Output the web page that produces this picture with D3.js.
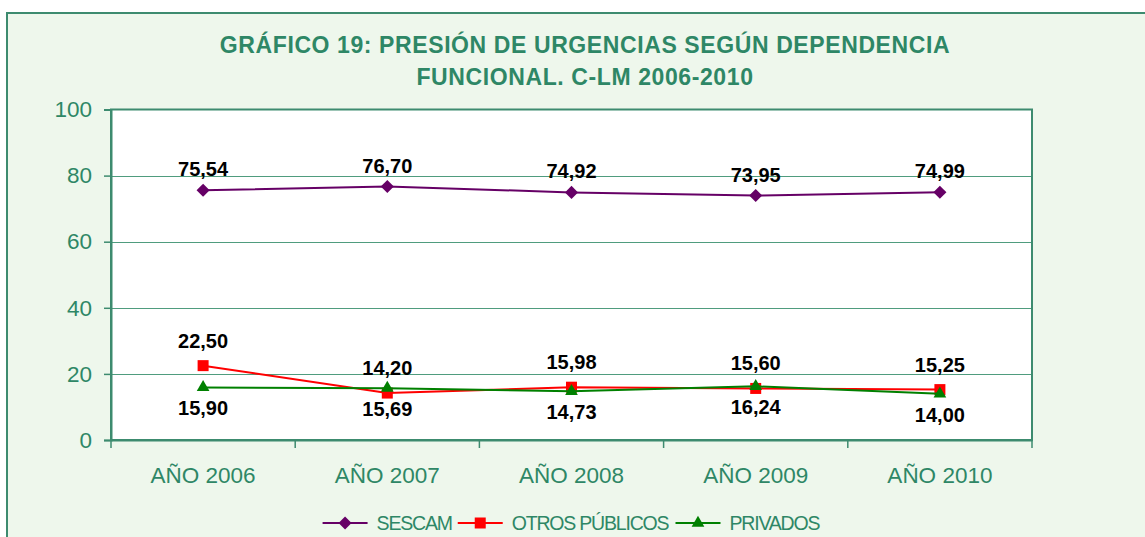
<!DOCTYPE html>
<html>
<head>
<meta charset="utf-8">
<script src="https://cdn.jsdelivr.net/npm/d3@7"></script>
<style>
  body { margin: 0; background: #fff; }
  text { font-family: "Liberation Sans", Arial, sans-serif; }
</style>
</head>
<body>
<div class="lineChart"></div>
<script>
// chart values
var years = ["AÑO 2006", "AÑO 2007", "AÑO 2008", "AÑO 2009", "AÑO 2010"];
var sescam = [75.54, 76.70, 74.92, 73.95, 74.99];
var otrosPublicos = [22.50, 14.20, 15.98, 15.60, 15.25];
var privados = [15.90, 15.69, 14.73, 16.24, 14.00];
var seriesNames = ["SESCAM", "OTROS PÚBLICOS", "PRIVADOS"];
var yTicks = [0, 20, 40, 60, 80, 100];
var titleLines = ["GRÁFICO 19: PRESIÓN DE URGENCIAS SEGÚN DEPENDENCIA",
                  "FUNCIONAL. C-LM 2006-2010"];

plotLineChart();

function plotLineChart(){
  var width = 1145, height = 537;
  var plot = {left: 111, right: 1032, top: 109.5, bottom: 440};
  var green = "#2e8766";

  var svg = d3.select(".lineChart")
              .append("svg")
              .attr("width", width)
              .attr("height", height);

  // outer frame
  svg.append("rect")
     .attr("x", 7).attr("y", 13)
     .attr("width", width + 20).attr("height", height + 20)
     .attr("fill", "#eef7ec")
     .attr("stroke", "#3d8b6f")
     .attr("stroke-width", 2);

  svg.selectAll(".title")
     .data(titleLines)
     .enter()
     .append("text")
     .attr("class", "title")
     .attr("x", 585)
     .attr("y", function(d, i){ return 53 + i * 32; })
     .attr("text-anchor", "middle")
     .style("font-size", "23px")
     .style("font-weight", "bold")
     .style("letter-spacing", "0.6px")
     .attr("fill", green)
     .text(function(d){ return d; });

  var x = d3.scaleBand().domain(years).range([plot.left, plot.right]);
  var y = d3.scaleLinear().domain([0, 100]).range([plot.bottom, plot.top]);

  // plot area
  svg.append("rect")
     .attr("x", plot.left).attr("y", plot.top)
     .attr("width", plot.right - plot.left)
     .attr("height", plot.bottom - plot.top)
     .attr("fill", "#fff");

  // gridlines
  svg.selectAll(".grid")
     .data(yTicks.slice(1, -1))
     .enter()
     .append("line")
     .attr("x1", plot.left).attr("x2", plot.right)
     .attr("y1", function(d){ return Math.round(y(d)) + 0.5; })
     .attr("y2", function(d){ return Math.round(y(d)) + 0.5; })
     .attr("stroke", "#4f9c7e")
     .attr("stroke-width", 1);

  svg.append("rect")
     .attr("x", plot.left).attr("y", plot.top)
     .attr("width", plot.right - plot.left)
     .attr("height", plot.bottom - plot.top)
     .attr("fill", "none")
     .attr("stroke", "#3d8b6f")
     .attr("stroke-width", 2);

  // y axis
  var yAxis = svg.append("g")
     .attr("transform", "translate(" + plot.left + ",0)")
     .call(d3.axisLeft(y).tickValues(yTicks).tickSize(7).tickPadding(12));
  yAxis.select(".domain").attr("stroke", "#3d8b6f").attr("stroke-width", 2);
  yAxis.selectAll(".tick line").attr("stroke", "#3d8b6f").attr("stroke-width", 1.5);
  yAxis.selectAll(".tick text")
       .attr("fill", green)
       .style("font-size", "22.5px")
       .style("font-family", "Liberation Sans, Arial, sans-serif");

  // x axis
  var xAxis = svg.append("g")
     .attr("transform", "translate(0," + plot.bottom + ")")
     .call(d3.axisBottom(x).tickSize(0).tickPadding(27));
  xAxis.select(".domain").attr("stroke", "#3d8b6f").attr("stroke-width", 2);
  xAxis.selectAll(".tick text")
       .attr("fill", green)
       .style("font-size", "22.5px")
       .style("font-family", "Liberation Sans, Arial, sans-serif");

  var bounds = years.map(function(d){ return x(d); }).concat([plot.right]);
  svg.selectAll(".xtick")
     .data(bounds)
     .enter()
     .append("line")
     .attr("x1", function(d){ return d; }).attr("x2", function(d){ return d; })
     .attr("y1", plot.bottom).attr("y2", plot.bottom + 8)
     .attr("stroke", "#3d8b6f")
     .attr("stroke-width", 1.5);

  var comma = d3.formatLocale({decimal: ",", thousands: ".", grouping: [3], currency: ["", "€"]}).format(".2f");

  var series = [
    {name: seriesNames[0], values: sescam, color: "#660066", symbol: d3.symbolSquare, size: 85, rotate: 45, dy: -14},
    {name: seriesNames[1], values: otrosPublicos, color: "#ff0000", symbol: d3.symbolSquare, size: 121, rotate: 0, dy: -18},
    {name: seriesNames[2], values: privados, color: "#008000", symbol: d3.symbolTriangle, size: 70, rotate: 0, dy: 28}
  ];

  var line = d3.line()
               .x(function(d, i){ return x(years[i]) + x.bandwidth() / 2; })
               .y(function(d){ return y(d); });

  series.forEach(function(s){
    var g = svg.append("g");
    g.append("path")
     .attr("d", line(s.values))
     .attr("fill", "none")
     .attr("stroke", s.color)
     .attr("stroke-width", 2);

    g.selectAll(".marker")
     .data(s.values)
     .enter()
     .append("path")
     .attr("d", d3.symbol(s.symbol, s.size))
     .attr("transform", function(d, i){
        return "translate(" + (x(years[i]) + x.bandwidth() / 2) + "," + y(d) + ") rotate(" + s.rotate + ")";
     })
     .attr("fill", s.color);
  });

  // data labels on top of everything
  series.forEach(function(s){
    svg.selectAll(null)
       .data(s.values)
       .enter()
       .append("text")
       .attr("x", function(d, i){ return x(years[i]) + x.bandwidth() / 2; })
       .attr("y", function(d){ return y(d) + s.dy; })
       .attr("text-anchor", "middle")
       .style("font-size", "20px")
       .style("font-weight", "bold")
       .attr("fill", "#000")
       .text(function(d){ return comma(d); });
  });

  // legend
  var legend = svg.append("g").attr("transform", "translate(0,523)");
  var items = legend.selectAll(".item")
                    .data(series)
                    .enter()
                    .append("g");
  items.append("line")
       .attr("x1", 0).attr("x2", 45)
       .attr("stroke", function(d){ return d.color; })
       .attr("stroke-width", 2);
  items.append("path")
       .attr("d", function(d){ return d3.symbol(d.symbol, d.size)(); })
       .attr("transform", function(d){ return "translate(22.5,0) rotate(" + d.rotate + ")"; })
       .attr("fill", function(d){ return d.color; });
  items.append("text")
       .attr("x", 54)
       .attr("dy", "0.35em")
       .style("font-size", "19.5px")
       .style("letter-spacing", "-1.2px")
       .attr("fill", green)
       .text(function(d){ return d.name; });

  var pos = 0, offsets = [];
  items.each(function(){
    offsets.push(pos);
    pos += this.getBBox().width + 6;
  });
  var start = (plot.left + plot.right) / 2 - (pos - 6) / 2;
  items.attr("transform", function(d, i){ return "translate(" + (start + offsets[i]) + ",0)"; });
}
</script>
</body>
</html>
